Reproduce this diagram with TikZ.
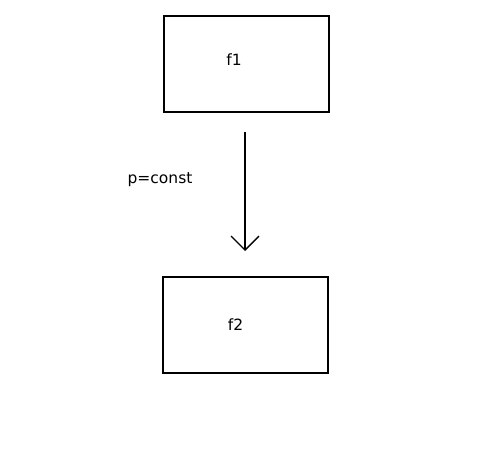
\documentclass[tikz,border=0pt]{standalone}
\usepackage{fontspec}
\setmainfont{DejaVu Sans}
\usetikzlibrary{arrows.meta}
\begin{document}
\begin{tikzpicture}[x=1pt,y=-1pt,
  boxstyle/.style={draw,line width=1.3pt,minimum width=165pt,minimum height=96pt,inner sep=0pt},
  lbl/.style={font=\fontsize{15.5}{18}\selectfont,inner sep=0pt},
  arr/.style={line width=1.3pt,-{Straight Barb[length=14pt,width=28pt,line width=1.3pt]}}]
\useasboundingbox (0,0) rectangle (479,457);
\node[boxstyle] (b1) at (246.5,64) {};
\node[boxstyle] (b2) at (245.5,325) {};
\node[lbl] (t1) at (234,59.5) {f1};
\node[lbl] (t2) at (235.5,324.5) {f2};
\coordinate (s) at (245,132);
\coordinate (e) at (245,251);
\draw[arr] (s) -- (e);
\node[lbl] (p) at (160,179.5) {p=const};
\end{tikzpicture}
\end{document}
